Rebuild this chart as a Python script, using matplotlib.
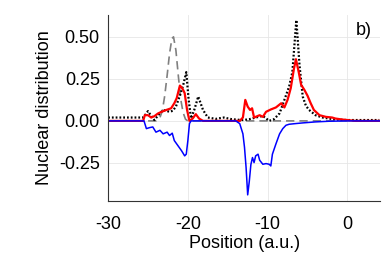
import matplotlib
matplotlib.use("Agg")
import matplotlib.pyplot as plt

plt.rcParams['font.family'] = ['Liberation Sans', 'DejaVu Sans']
plt.rcParams['axes.unicode_minus'] = False

# gray dashed: reference distribution
gray_x = [-30, -24.0, -23.5, -23.2, -22.9, -22.6, -22.3, -22.0, -21.8, -21.5, -21.2, -20.9, -20.6, -20.3, -20.0, 4]
gray_y = [0, 0, 0.02, 0.06, 0.15, 0.27, 0.40, 0.49, 0.50, 0.42, 0.27, 0.13, 0.05, 0.01, 0, 0]

# black dotted
dot_x = [-30, -26.0, -25.6, -25.0, -24.6, -24.2, -23.6, -23.1, -22.7, -22.3, -21.9, -21.5, -21.0, -20.6, -20.2,
         -19.9, -19.6, -19.2, -18.7, -18.1, -17.5, -16.5, -15.5, -14.5, -13.5, -13.1, -12.3, -11.5, -10.6,
         -9.8, -9.2, -8.5, -7.9, -7.3, -6.9, -6.4, -6.0, -5.6, -5.2, -4.8, -4.0, -3.1, -1.5, 0, 4]
dot_y = [0.02, 0.02, 0.02, 0.058, 0.03, 0.005, 0.04, 0.065, 0.06, 0.054, 0.06, 0.085, 0.15, 0.21, 0.29,
         0.125, 0.015, 0.065, 0.145, 0.065, 0.02, 0.012, 0.02, 0.01, 0.006, 0.005, 0.01, 0.02, 0.03,
         0.0, 0.01, 0.045, 0.125, 0.205, 0.29, 0.60, 0.33, 0.145, 0.09, 0.065, 0.034, 0.02, 0.008, 0.005, 0.005]

# red: positive component
red_x = [-30, -25.6, -25.4, -25.0, -24.6, -24.2, -23.75, -23.3, -22.7, -22.1, -21.7, -21.4, -21.0, -20.8,
         -20.6, -20.4, -20.1, -19.8, -19.4, -19.0, -18.6, -18.1, -13.5, -13.1, -12.8, -12.5, -12.2, -11.95,
         -11.7, -11.0, -10.6, -10.2, -9.6, -8.96, -8.3, -7.9, -7.5, -7.1, -6.7, -6.45, -6.1, -5.8, -5.4,
         -5.0, -4.6, -4.2, -3.5, -2.7, -1.9, -1.5, -0.6, 1.0, 4]
red_y = [0, 0, 0.034, 0.034, 0.02, 0.028, 0.044, 0.054, 0.065, 0.075, 0.105, 0.135, 0.21, 0.20,
         0.185, 0.165, 0.065, 0.0, 0.014, 0.04, 0.014, 0.0, 0.0, 0.02, 0.125, 0.085, 0.065, 0.075,
         0.02, 0.034, 0.024, 0.054, 0.068, 0.08, 0.105, 0.08, 0.125, 0.195, 0.31, 0.367, 0.29, 0.215, 0.185,
         0.15, 0.105, 0.065, 0.034, 0.024, 0.02, 0.014, 0.008, 0.0, 0.0]

# blue: negative component
blue_x = [-30, -25.5, -25.2, -24.8, -24.4, -24.0, -23.5, -23.1, -22.6, -22.3, -21.96, -21.7, -21.25, -20.8,
          -20.4, -20.2, -20.0, -19.8, -19.6, -14.0, -13.5, -13.1, -12.9, -12.7, -12.5, -12.3, -12.1, -11.9,
          -11.7, -11.5, -11.2, -11.0, -10.6, -10.2, -9.8, -9.6, -9.4, -8.96, -8.5, -8.1, -7.7, -7.3, -6.5,
          -5.6, -4.0, -2.3, 0, 4]
blue_y = [0, 0, -0.046, -0.04, -0.036, -0.067, -0.056, -0.077, -0.067, -0.087, -0.073, -0.117, -0.147, -0.177,
          -0.208, -0.198, -0.117, -0.016, 0, 0, -0.016, -0.077, -0.157, -0.278, -0.44, -0.36, -0.26, -0.218,
          -0.248, -0.208, -0.198, -0.234, -0.258, -0.254, -0.258, -0.268, -0.198, -0.137, -0.077, -0.046, -0.026, -0.02, -0.016,
          -0.012, -0.006, -0.002, 0, 0]

x_ticks = [-30, -20, -10, 0]
y_ticks = [-0.25, 0.0, 0.25, 0.5]
y_tick_labels = ['-0.25', '0.00', '0.25', '0.50']

fig = plt.figure(figsize=(3.82, 2.54), dpi=100)
ax = fig.add_axes([0.283, 0.209, 0.712, 0.732])

ax.plot(gray_x, gray_y, color='gray', linestyle=(0, (5, 3)), lw=1.2)
ax.plot(dot_x, dot_y, color='black', linestyle=(0, (0.8, 0.9)), lw=1.6)
ax.plot(red_x, red_y, color='red', lw=1.6)
ax.plot(blue_x, blue_y, color='blue', lw=1.1)

ax.set_xlim(-30, 4.1)
ax.set_ylim(-0.476, 0.63)
ax.set_xticks(x_ticks)
ax.set_yticks(y_ticks)
ax.set_yticklabels(y_tick_labels)
ax.tick_params(length=0, labelsize=13)
ax.tick_params(axis='x', pad=11)
ax.tick_params(axis='y', pad=6)
ax.grid(True, color='#e6e6e6', lw=0.6)
ax.spines['top'].set_visible(False)
ax.spines['right'].set_visible(False)
for s in ['left', 'bottom']:
    ax.spines[s].set_color('#333333')
    ax.spines[s].set_linewidth(0.8)

ax.set_xlabel('Position (a.u.)', fontsize=13, labelpad=1)
ax.set_ylabel('Nuclear distribution', fontsize=13, labelpad=4)
ax.text(0.97, 0.914, 'b)', transform=ax.transAxes, ha='right', va='center', fontsize=13)

fig.savefig('out.png', dpi=100)
